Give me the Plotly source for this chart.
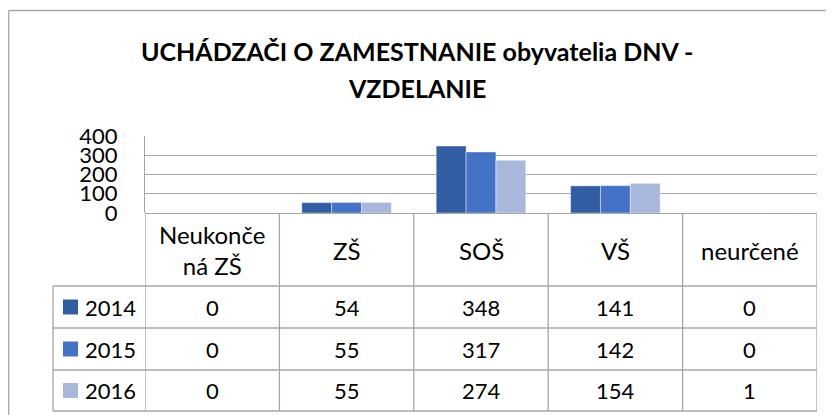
import plotly.graph_objects as go

categories = ["Neukončená ZŠ", "ZŠ", "SOŠ", "VŠ", "neurčené"]
header_labels = ["Neukonče<br>ná ZŠ", "ZŠ", "SOŠ", "VŠ", "neurčené"]
years = ["2014", "2015", "2016"]
v2014 = [0, 54, 348, 141, 0]
v2015 = [0, 55, 317, 142, 0]
v2016 = [0, 55, 274, 154, 1]
title_lines = ["UCHÁDZAČI O ZAMESTNANIE obyvatelia DNV -", "VZDELANIE"]
y_ticks = [0, 100, 200, 300, 400]

series = [v2014, v2015, v2016]
colors = ["#335DA3", "#4472C4", "#A9B7DC"]

# the page body adds an 8px offset; the figure is sized so that page pixels match
OFF = 8
W, H = 834 - OFF, 415 - OFF
P_LEFT, P_RIGHT, P_TOP, P_BOTTOM = 145, 817, 136, 213  # plot area in page pixels
ML = P_LEFT - OFF
MT = P_TOP - OFF
MR = W - (P_RIGHT - OFF)
MB = H - (P_BOTTOM - OFF)
PW = P_RIGHT - P_LEFT
PH = P_BOTTOM - P_TOP
FONT = "Lato"
GRID = "#A6A6A6"
LW = 1.3


def px(xp):
    return (xp - P_LEFT) / PW


def py(yp):
    return (P_BOTTOM - yp) / PH


fig = go.Figure()
for name, vals, c in zip(years, series, colors):
    fig.add_trace(go.Bar(
        x=categories, y=vals, name=name,
        marker=dict(color=c, line=dict(color="rgba(255,255,255,0.6)", width=0.7)),
    ))

shapes = []
annotations = []

# outer chart border (left and top sides visible)
shapes.append(dict(type="line", xref="paper", yref="paper", x0=px(8.7), x1=px(8.7),
                   y0=py(10.5), y1=py(440), line=dict(color=GRID, width=LW)))
shapes.append(dict(type="line", xref="paper", yref="paper", x0=px(8.7), x1=px(860),
                   y0=py(10.5), y1=py(10.5), line=dict(color=GRID, width=LW)))

# data table geometry (page pixels)
row_bot = 411
legend_left = 53

for i in range(len(categories) + 1):
    shapes.append(dict(type="line", xref="x", yref="paper", x0=i - 0.5, x1=i - 0.5,
                       y0=py(P_BOTTOM), y1=py(row_bot), line=dict(color=GRID, width=LW)))
shapes.append(dict(type="line", xref="paper", yref="paper", x0=px(legend_left), x1=px(legend_left),
                   y0=py(286), y1=py(row_bot), line=dict(color=GRID, width=LW)))
for yy in [286, 328, 370, row_bot]:
    shapes.append(dict(type="line", xref="paper", yref="paper", x0=px(legend_left), x1=1,
                       y0=py(yy), y1=py(yy), line=dict(color=GRID, width=LW)))

# header labels
for i, lab in enumerate(header_labels):
    annotations.append(dict(x=i, y=py(250), xref="x", yref="paper",
                            text=lab, showarrow=False, xanchor="center", yanchor="middle",
                            font=dict(family=FONT, size=24, color="#000")))

# rows with legend keys
row_bounds = [(286, 328), (328, 370), (370, row_bot)]
for (y0, y1), name, vals, c in zip(row_bounds, years, series, colors):
    yc = (y0 + y1) / 2
    shapes.append(dict(type="rect", xref="paper", yref="paper", x0=px(63), x1=px(78),
                       y0=py(yc - 7.5), y1=py(yc + 7.5), fillcolor=c, line=dict(width=0)))
    annotations.append(dict(x=px(83), y=py(yc), xref="paper", yref="paper", text=name,
                            showarrow=False, xanchor="left", yanchor="middle",
                            font=dict(family=FONT, size=22, color="#000")))
    for i, v in enumerate(vals):
        annotations.append(dict(x=i, y=py(yc), xref="x", yref="paper", text=str(v),
                                showarrow=False, xanchor="center", yanchor="middle",
                                font=dict(family=FONT, size=22, color="#000")))

# title
for ln, yc in zip(title_lines, [51, 88]):
    annotations.append(dict(x=px(417), y=py(yc), xref="paper", yref="paper", text=f"<b>{ln}</b>",
                            showarrow=False, xanchor="center", yanchor="middle",
                            font=dict(family=FONT, size=25, color="#000")))

fig.update_layout(
    width=W, height=H,
    margin=dict(l=ML, r=MR, t=MT, b=MB, pad=0),
    paper_bgcolor="white", plot_bgcolor="white",
    barmode="group", bargap=1 / 3, bargroupgap=0,
    showlegend=False,
    shapes=shapes, annotations=annotations,
    xaxis=dict(showticklabels=False, showgrid=False, zeroline=False, showline=False,
               ticks="", range=[-0.5, 4.5]),
    yaxis=dict(range=[0, 400], tickvals=y_ticks, ticktext=[str(t) for t in y_ticks],
               showgrid=True, gridcolor=GRID, gridwidth=LW,
               zeroline=True, zerolinecolor=GRID, zerolinewidth=LW,
               showline=True, linecolor=GRID, linewidth=LW, ticks="",
               ticklabelstandoff=22,
               tickfont=dict(family=FONT, size=22, color="#000")),
)

fig.write_html("out.html")
